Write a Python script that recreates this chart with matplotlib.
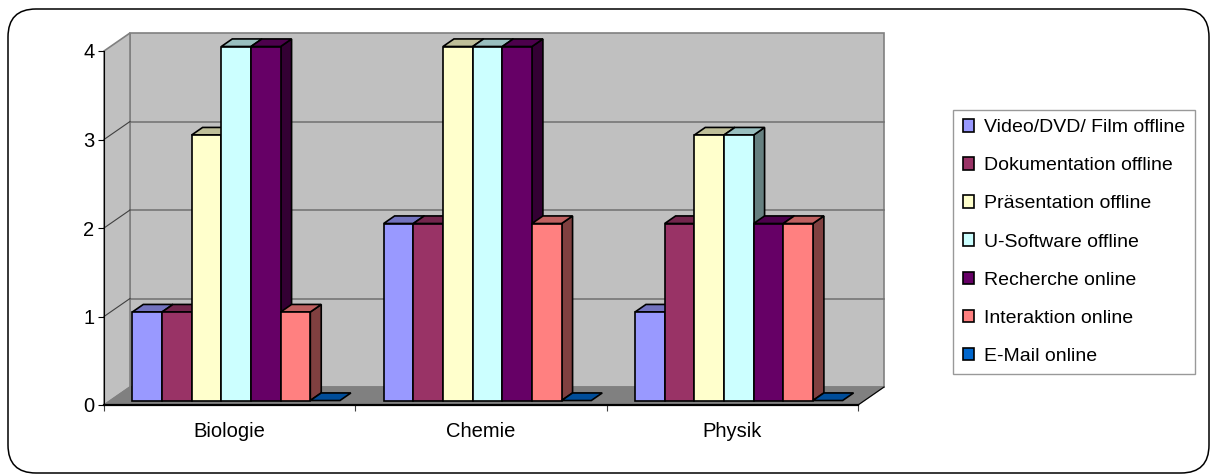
import matplotlib
matplotlib.use('Agg')
import matplotlib.pyplot as plt
import matplotlib.patches as mpatches
from matplotlib.transforms import IdentityTransform
from matplotlib.colors import to_rgb

plt.rcParams['font.family'] = ['Liberation Sans', 'DejaVu Sans']

categories = ['Biologie', 'Chemie', 'Physik']
series = ['Video/DVD/ Film offline', 'Dokumentation offline', 'Präsentation offline',
          'U-Software offline', 'Recherche online', 'Interaktion online', 'E-Mail online']
colors = ['#9999FF', '#993366', '#FFFFCC', '#CCFFFF', '#660066', '#FF8080', '#0066CC']
values = [
    [1, 2, 1],   # Video/DVD/ Film offline
    [1, 2, 2],   # Dokumentation offline
    [3, 4, 3],   # Präsentation offline
    [4, 4, 3],   # U-Software offline
    [4, 4, 2],   # Recherche online
    [1, 2, 2],   # Interaktion online
    [0, 0, 0],   # E-Mail online
]
yticks = [0, 1, 2, 3, 4]

W, H = 1211, 475
fig = plt.figure(figsize=(W / 100, H / 100), dpi=100)

# plot box in pixels: left 104, floor 405, 251.3 px per category, 88.5 px per unit
ax = fig.add_axes([104 / W, 70 / H, 754 / W, 354 / H])
ax.set_xlim(0, 3)
ax.set_ylim(0, 4)
ax.patch.set_visible(False)

DX = 26 / 251.3   # depth offset in data units
DY = 18 / 88.5
ymax = 4

def shade(c, f):
    r, g, b = to_rgb(c)
    return (r * f, g * f, b * f)

def poly(pts, fc, ec='black', lw=1.2, z=3):
    ax.add_patch(mpatches.Polygon(pts, closed=True, facecolor=fc, edgecolor=ec,
                                  linewidth=lw, zorder=z, clip_on=False))

# walls and floor
poly([(DX, DY), (3 + DX, DY), (3 + DX, ymax + DY), (DX, ymax + DY)], '#C0C0C0', '#808080', 1.2, 1)
poly([(0, 0), (DX, DY), (DX, ymax + DY), (0, ymax)], '#C0C0C0', '#808080', 1.2, 1)
for k in yticks[1:-1]:
    ax.plot([DX, 3 + DX], [k + DY, k + DY], color='#707070', lw=1.1, zorder=1.5, clip_on=False)
    ax.plot([0, DX], [k, k + DY], color='#404040', lw=0.8, zorder=1.5, clip_on=False)
poly([(0, 0), (3, 0), (3 + DX, DY), (DX, DY)], '#808080', '#808080', 1.0, 1.2)
ax.plot([3, 3 + DX], [0, DY], color='black', lw=0.8, zorder=1.6, clip_on=False)

# bars
n = len(series)
w = 0.118
gap = 1 - n * w
z0, z1 = 0.25, 0.67
for c in range(len(categories)):
    for s in range(n):
        v = values[s][c]
        xl = c + gap / 2 + s * w
        fx, fy = z0 * DX, z0 * DY
        bx, by = z1 * DX, z1 * DY
        if v > 0:
            poly([(xl + w + fx, fy), (xl + w + bx, by), (xl + w + bx, v + by), (xl + w + fx, v + fy)],
                 shade(colors[s], 0.5))
        poly([(xl + fx, v + fy), (xl + w + fx, v + fy), (xl + w + bx, v + by), (xl + bx, v + by)],
             shade(colors[s], 0.75))
        if v > 0:
            poly([(xl + fx, fy), (xl + w + fx, fy), (xl + w + fx, v + fy), (xl + fx, v + fy)],
                 colors[s])

# axes
for side in ['top', 'right']:
    ax.spines[side].set_visible(False)
ax.spines['left'].set_color('black')
ax.spines['left'].set_linewidth(0.8)
ax.spines['bottom'].set_color('black')
ax.spines['bottom'].set_linewidth(1.6)
ax.set_yticks(yticks)
ax.set_yticklabels([str(t) for t in yticks], fontsize=14.5)
ax.tick_params(axis='y', direction='out', length=4, width=0.8, pad=3)
ax.set_xticks([0, 1, 2, 3])
ax.set_xticklabels([])
ax.set_xticks([0.5, 1.5, 2.5], minor=True)
ax.set_xticklabels(categories, minor=True, fontsize=14.5)
ax.tick_params(axis='x', which='major', direction='out', length=4, width=0.8, color='#404040')
ax.tick_params(axis='x', which='minor', length=0, pad=12)

# legend
handles = [mpatches.Patch(facecolor=col, edgecolor='black', linewidth=1.2) for col in colors]
leg = fig.legend(handles, series, loc='center left', bbox_to_anchor=(953 / W, (H - 242) / H),
                 fontsize=14, frameon=True, fancybox=False, edgecolor='#808080',
                 handlelength=0.6, handleheight=0.6, handletextpad=0.5,
                 labelspacing=1.08, borderpad=0.5, borderaxespad=0)
leg.get_frame().set_linewidth(1.0)

# rounded outer border
border = mpatches.FancyBboxPatch((8, 2), 1201, 464, boxstyle='round,pad=0,rounding_size=28',
                                 facecolor='none', edgecolor='black', linewidth=1.1,
                                 transform=IdentityTransform())
fig.patches.append(border)

fig.savefig('out.png', dpi=100, facecolor='white')
